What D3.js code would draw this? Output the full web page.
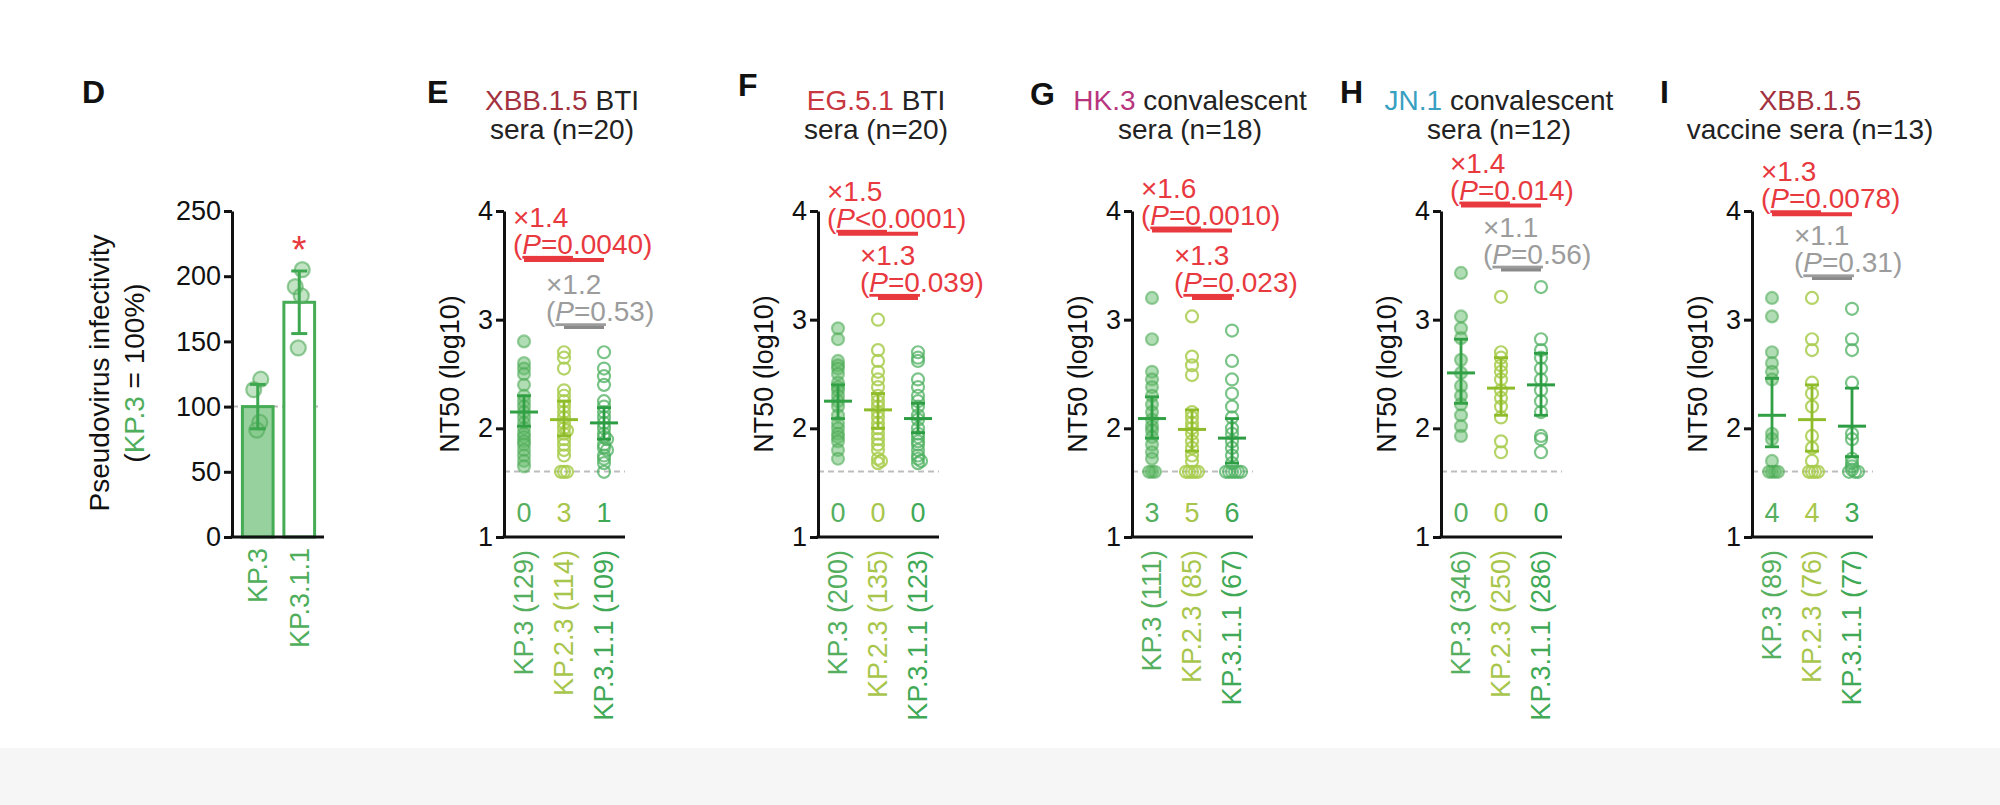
<!DOCTYPE html>
<html><head><meta charset="utf-8">
<script src="https://cdn.jsdelivr.net/npm/d3@7"></script>
<style>
body{margin:0;background:#fff;}
svg text{font-family:Arial,"Liberation Sans",Helvetica,sans-serif;}
</style>
</head><body>
<svg id="c" width="2000" height="805"></svg>
<script>
// ---------------- DATA ----------------
// Panel D: pseudovirus infectivity (%)
const dCategories = ["KP.3", "KP.3.1.1"];
const dMeans = [100, 180];
const dSD = [17, 24];
const dPoints = [[121, 113, 88, 82], [205, 192, 185, 145]];
const dTicks = [0, 50, 100, 150, 200, 250];

// Panels E-I: NT50 (log10)
const variants = ["KP.3", "KP.2.3", "KP.3.1.1"];
const panelLetters = ["E", "F", "G", "H", "I"];
const titleVirus = ["XBB.1.5", "EG.5.1", "HK.3", "JN.1", "XBB.1.5"];
const titleRest = [" BTI", " BTI", " convalescent", " convalescent", ""];
const titleLine2 = ["sera (n=20)", "sera (n=20)", "sera (n=18)", "sera (n=12)", "vaccine sera (n=13)"];
const gmtLabels = [[129, 114, 109], [200, 135, 123], [111, 85, 67], [346, 250, 286], [89, 76, 77]];
const belowLOD = [[0, 3, 1], [0, 0, 0], [3, 5, 6], [0, 0, 0], [4, 4, 3]];
const yTicks = [1, 2, 3, 4];
const lodLog = 1.602;

const nt50E = [
  [2.80, 2.60, 2.55, 2.50, 2.40, 2.30, 2.25, 2.20, 2.15, 2.10, 2.05, 2.00, 1.95, 1.92, 1.88, 1.85, 1.80, 1.75, 1.70, 1.65],
  [2.70, 2.65, 2.55, 2.35, 2.30, 2.25, 2.20, 2.15, 2.10, 2.05, 2.00, 1.98, 1.95, 1.90, 1.85, 1.80, 1.75, 1.60, 1.60, 1.60],
  [2.70, 2.55, 2.48, 2.40, 2.25, 2.20, 2.15, 2.10, 2.05, 2.00, 1.95, 1.92, 1.90, 1.85, 1.82, 1.80, 1.75, 1.72, 1.68, 1.60]
];
const nt50F = [
  [2.92, 2.82, 2.62, 2.58, 2.55, 2.50, 2.42, 2.38, 2.35, 2.30, 2.25, 2.20, 2.12, 2.05, 2.00, 1.95, 1.92, 1.88, 1.80, 1.72],
  [3.00, 2.72, 2.62, 2.52, 2.45, 2.38, 2.30, 2.25, 2.20, 2.15, 2.10, 2.05, 2.00, 1.95, 1.90, 1.85, 1.80, 1.72, 1.70, 1.68],
  [2.70, 2.65, 2.62, 2.45, 2.38, 2.30, 2.25, 2.20, 2.12, 2.08, 2.00, 1.95, 1.92, 1.88, 1.85, 1.80, 1.75, 1.72, 1.70, 1.68]
];
const nt50G = [
  [3.20, 2.82, 2.52, 2.45, 2.38, 2.30, 2.22, 2.15, 2.08, 2.02, 1.98, 1.92, 1.85, 1.78, 1.72, 1.60, 1.60, 1.60],
  [3.03, 2.66, 2.58, 2.49, 2.15, 2.10, 2.05, 2.00, 1.95, 1.88, 1.82, 1.75, 1.70, 1.60, 1.60, 1.60, 1.60, 1.60],
  [2.90, 2.62, 2.45, 2.32, 2.20, 2.10, 2.00, 1.95, 1.88, 1.82, 1.75, 1.68, 1.60, 1.60, 1.60, 1.60, 1.60, 1.60]
];
const nt50H = [
  [3.43, 3.03, 2.92, 2.83, 2.63, 2.51, 2.39, 2.30, 2.22, 2.12, 2.02, 1.93],
  [3.21, 2.70, 2.65, 2.58, 2.52, 2.45, 2.35, 2.28, 2.20, 2.10, 1.88, 1.78],
  [3.30, 2.82, 2.72, 2.65, 2.55, 2.45, 2.35, 2.25, 2.15, 1.93, 1.90, 1.78]
];
const nt50I = [
  [3.20, 3.03, 2.70, 2.60, 2.52, 2.45, 1.95, 1.90, 1.70, 1.60, 1.60, 1.60, 1.60],
  [3.20, 2.82, 2.72, 2.42, 2.32, 2.20, 1.93, 1.82, 1.70, 1.60, 1.60, 1.60, 1.60],
  [3.10, 2.82, 2.72, 2.42, 1.95, 1.90, 1.72, 1.68, 1.65, 1.62, 1.60, 1.60, 1.60]
];
const panelData = [nt50E, nt50F, nt50G, nt50H, nt50I];

// mean (log10) and 95% CI as drawn
const meanLog = [[2.15, 2.08, 2.05], [2.25, 2.17, 2.09], [2.09, 1.99, 1.91], [2.51, 2.37, 2.40], [2.12, 2.08, 2.02]];
const ciLow  = [[2.02, 1.93, 1.90], [2.09, 2.00, 1.96], [1.91, 1.79, 1.68], [2.23, 2.12, 2.12], [1.83, 1.79, 1.74]];
const ciHigh = [[2.30, 2.25, 2.19], [2.40, 2.32, 2.23], [2.29, 2.17, 2.09], [2.82, 2.65, 2.69], [2.46, 2.40, 2.37]];

// comparisons: [KP.3 vs KP.3.1.1, KP.2.3 vs KP.3.1.1]
const compFold = [["×1.4", "×1.2"], ["×1.5", "×1.3"], ["×1.6", "×1.3"], ["×1.4", "×1.1"], ["×1.3", "×1.1"]];
const compP = [["=0.0040", "=0.53"], ["<0.0001", "=0.039"], ["=0.0010", "=0.023"], ["=0.014", "=0.56"], ["=0.0078", "=0.31"]];
const compSig = [[true, false], [true, true], [true, true], [true, false], [true, false]];
const compLevel = [[3.55, 2.93], [3.79, 3.20], [3.82, 3.20], [4.05, 3.46], [3.97, 3.38]];
const compFrom = [0, 1];

// ---------------- LAYOUT / STYLE ----------------
const axisXs = [504, 818, 1132, 1441, 1752];
const letterPos = [[427, 103], [738, 96], [1030, 105], [1340, 103], [1660, 103]];
const labelColor = ["#55af5f", "#a8c64c", "#3fa956"];
const dotFill = ["rgba(100,188,105,0.5)", "none", "none"];
const dotStroke = ["rgba(72,168,82,0.55)", "rgba(168,204,78,0.85)", "rgba(78,176,96,0.75)"];
const meanColor = ["#32a044", "#8fbc2a", "#2d9d43"];
const virusColor = ["#a3323f", "#c8363f", "#b8357e", "#3aa0c2", "#a3323f"];
const RED = "#e8393f", GREY_T = "#9c9c9c", GREY_B = "#8a8a8a";
const FS = 28;   // titles / annotations
const FT = 27;   // ticks, counts, x labels

const svg = d3.select("#c");
svg.append("rect").attr("width", 2000).attr("height", 805).attr("fill", "#fff");
svg.append("rect").attr("y", 748).attr("width", 2000).attr("height", 57).attr("fill", "#f6f6f6");

function styleAxis(g) {
  g.select(".domain").attr("stroke", "#111").attr("stroke-width", 3);
  g.selectAll(".tick line").attr("stroke", "#111").attr("stroke-width", 3);
  g.selectAll(".tick text").attr("font-size", FT).attr("fill", "#111");
}

// ---------------- PANEL D ----------------
(function () {
  const gD = svg.append("g");
  const yD = d3.scaleLinear().domain([0, 250]).range([537, 211]);
  const xD = d3.scaleBand().domain(dCategories).range([237, 320]).paddingInner(0.26).paddingOuter(0.13);
  gD.append("text").attr("x", 82).attr("y", 103).attr("font-size", 32).attr("font-weight", "bold").attr("fill", "#111").text("D");

  gD.append("line").attr("x1", 232).attr("x2", 321).attr("y1", yD(100)).attr("y2", yD(100))
    .attr("stroke", "#bbb").attr("stroke-width", 2).attr("stroke-dasharray", "6,4");

  dCategories.forEach((c, i) => {
    const x0 = xD(c), bw = xD.bandwidth(), cx = x0 + bw / 2;
    gD.append("rect").attr("x", x0).attr("y", yD(dMeans[i])).attr("width", bw).attr("height", yD(0) - yD(dMeans[i]))
      .attr("fill", i === 0 ? "rgba(95,185,105,0.65)" : "#fff").attr("stroke", "#45ab55").attr("stroke-width", 3);
    dPoints[i].forEach((v, j) => {
      gD.append("circle").attr("cx", cx + [3, -4, 2, -1][j]).attr("cy", yD(v)).attr("r", 7.5)
        .attr("fill", "rgba(120,195,125,0.45)").attr("stroke", "rgba(80,170,90,0.6)").attr("stroke-width", 2.2);
    });
    const top = yD(dMeans[i] + dSD[i]), bot = yD(dMeans[i] - dSD[i]);
    gD.append("line").attr("x1", cx).attr("x2", cx).attr("y1", top).attr("y2", bot).attr("stroke", "#3ea850").attr("stroke-width", 3);
    gD.append("line").attr("x1", cx - 8).attr("x2", cx + 8).attr("y1", top).attr("y2", top).attr("stroke", "#3ea850").attr("stroke-width", 3);
    gD.append("line").attr("x1", cx - 8).attr("x2", cx + 8).attr("y1", bot).attr("y2", bot).attr("stroke", "#3ea850").attr("stroke-width", 3);
    gD.append("text").attr("transform", `translate(${cx},548) rotate(-90)`).attr("text-anchor", "end").attr("dy", "0.35em")
      .attr("font-size", FT).attr("fill", "#4fae5b").text(c);
  });
  gD.append("text").attr("x", xD(dCategories[1]) + xD.bandwidth() / 2).attr("y", yD(d3.max(dPoints[1])) - 7)
    .attr("text-anchor", "middle").attr("font-size", 38).attr("fill", RED).text("*");

  const ax = gD.append("g").attr("transform", "translate(232,0)")
    .call(d3.axisLeft(yD).tickValues(dTicks).tickSize(8).tickSizeOuter(0).tickPadding(3));
  styleAxis(ax);
  gD.append("line").attr("x1", 230.5).attr("x2", 324).attr("y1", 537).attr("y2", 537).attr("stroke", "#111").attr("stroke-width", 3);

  const yl = gD.append("text").attr("transform", `translate(0,373) rotate(-90)`).attr("text-anchor", "middle").attr("font-size", 28).attr("fill", "#111");
  yl.append("tspan").attr("x", 0).attr("y", 109).text("Pseudovirus infectivity");
  const l2 = yl.append("tspan").attr("x", 0).attr("y", 144);
  l2.text("(");
  yl.append("tspan").attr("fill", "#4fae5b").text("KP.3");
  yl.append("tspan").text(" = 100%)");
})();

// ---------------- PANELS E-I ----------------
const y = d3.scaleLinear().domain([1, 4]).range([537, 211]);

function swarm(vals, cx) {
  const placed = [];
  const sorted = vals.map((v, i) => ({ v, i })).sort((a, b) => b.v - a.v);
  const minD = 3, step = 3;
  sorted.forEach(p => {
    const py = y(p.v);
    let k = 0, px = cx;
    while (true) {
      const off = k === 0 ? 0 : (k % 2 === 1 ? 1 : -1) * Math.ceil(k / 2) * step;
      px = cx + off;
      if (placed.every(q => Math.hypot(q.x - px, q.y - py) >= minD)) break;
      k++;
      if (k > 20) break;
    }
    placed.push({ x: px, y: py });
  });
  return placed;
}

panelLetters.forEach((L, pi) => {
  const ax0 = axisXs[pi];
  const g = svg.append("g");
  const x = d3.scalePoint().domain(variants).range([ax0 + 20, ax0 + 100]);

  g.append("text").attr("x", letterPos[pi][0]).attr("y", letterPos[pi][1]).attr("font-size", 32).attr("font-weight", "bold").attr("fill", "#111").text(L);

  const t1 = g.append("text").attr("x", ax0 + 58).attr("y", 110).attr("text-anchor", "middle").attr("font-size", FS).attr("fill", "#222");
  t1.append("tspan").attr("fill", virusColor[pi]).text(titleVirus[pi]);
  if (titleRest[pi]) t1.append("tspan").text(titleRest[pi]);
  g.append("text").attr("x", ax0 + 58).attr("y", 139).attr("text-anchor", "middle").attr("font-size", FS).attr("fill", "#222").text(titleLine2[pi]);

  g.append("line").attr("x1", ax0).attr("x2", ax0 + 121).attr("y1", y(lodLog)).attr("y2", y(lodLog))
    .attr("stroke", "#bdbdbd").attr("stroke-width", 2).attr("stroke-dasharray", "6,4");

  variants.forEach((v, vi) => {
    const cx = x(v);
    const pts = swarm(panelData[pi][vi], cx);
    g.append("g").selectAll("circle").data(pts).join("circle")
      .attr("cx", d => d.x).attr("cy", d => d.y).attr("r", 6)
      .attr("fill", dotFill[vi]).attr("stroke", dotStroke[vi]).attr("stroke-width", 2.2);
    const mc = meanColor[vi];
    const ym = y(meanLog[pi][vi]), yl = y(ciLow[pi][vi]), yh = y(ciHigh[pi][vi]);
    g.append("line").attr("x1", cx).attr("x2", cx).attr("y1", yh).attr("y2", yl).attr("stroke", mc).attr("stroke-width", 2.8);
    g.append("line").attr("x1", cx - 7).attr("x2", cx + 7).attr("y1", yh).attr("y2", yh).attr("stroke", mc).attr("stroke-width", 2.8);
    g.append("line").attr("x1", cx - 7).attr("x2", cx + 7).attr("y1", yl).attr("y2", yl).attr("stroke", mc).attr("stroke-width", 2.8);
    g.append("line").attr("x1", cx - 14).attr("x2", cx + 14).attr("y1", ym).attr("y2", ym).attr("stroke", mc).attr("stroke-width", 3);
    g.append("text").attr("x", cx).attr("y", 522).attr("text-anchor", "middle").attr("font-size", FT).attr("fill", labelColor[vi]).text(belowLOD[pi][vi]);
    g.append("text").attr("transform", `translate(${cx},550) rotate(-90)`).attr("text-anchor", "end").attr("dy", "0.35em")
      .attr("font-size", FT).attr("fill", labelColor[vi]).text(`${v} (${gmtLabels[pi][vi]})`);
  });

  [0, 1].forEach(k => {
    const sig = compSig[pi][k];
    const bx0 = x(variants[compFrom[k]]), bx1 = x(variants[2]);
    const yb = y(compLevel[pi][k]);
    g.append("line").attr("x1", bx0).attr("x2", bx1).attr("y1", yb).attr("y2", yb)
      .attr("stroke", sig ? RED : GREY_B).attr("stroke-width", sig ? 4 : 3.5);
    const tx = bx0 - (k === 0 ? 11 : 18);
    const col = sig ? RED : GREY_T;
    g.append("text").attr("x", tx).attr("y", yb - 33).attr("font-size", FS).attr("fill", col).text(compFold[pi][k]);
    const pt = g.append("text").attr("x", tx).attr("y", yb - 6).attr("font-size", FS).attr("fill", col);
    const ps = compP[pi][k];
    pt.append("tspan").text("(");
    pt.append("tspan").attr("font-style", "italic").style("text-decoration", "underline").text("P");
    pt.append("tspan").style("text-decoration", "underline").text(ps.slice(0, 2));
    pt.append("tspan").text(ps.slice(2) + ")");
  });

  const ay = g.append("g").attr("transform", `translate(${ax0},0)`)
    .call(d3.axisLeft(y).tickValues(yTicks).tickFormat(d3.format("d")).tickSize(8).tickSizeOuter(0).tickPadding(3));
  styleAxis(ay);
  g.append("line").attr("x1", ax0 - 1.5).attr("x2", ax0 + 121).attr("y1", 537).attr("y2", 537).attr("stroke", "#111").attr("stroke-width", 3);
  g.append("text").attr("transform", `translate(${ax0 - 54},374) rotate(-90)`).attr("text-anchor", "middle").attr("dy", "0.35em")
    .attr("font-size", 27).attr("fill", "#111").text("NT50 (log10)");
});
</script>
</body></html>
